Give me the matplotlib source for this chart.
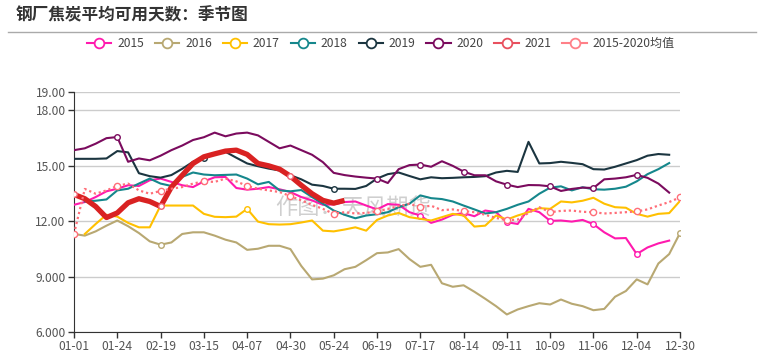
import numpy as np
import matplotlib
matplotlib.use('Agg')
import matplotlib.pyplot as plt
from matplotlib.lines import Line2D

plt.rcParams['font.family'] = ['Noto Sans CJK SC', 'DejaVu Sans']

nan = np.nan

tick_labels = ['01-01', '01-24', '02-19', '03-15', '04-07', '04-30', '05-24', '06-19',
               '07-17', '08-14', '09-11', '10-09', '11-06', '12-04', '12-30']

y2015 = [12.89, 13.04, 13.31, 13.62, 13.76, 13.95, 13.91, 14.22, 14.31, 14.13, 13.95, 13.85,
         14.16, 14.38, 14.40, 13.80, 13.71, 13.76, 13.85, 13.73, 13.58, 13.31, 13.13, 12.89,
         12.91, 13.04, 13.07, 12.85, 12.64, 12.93, 12.89, 12.49, 12.31, 11.91, 12.09, 12.35,
         12.44, 12.27, 12.58, 12.49, 11.95, 11.85, 12.67, 12.49, 12.02, 12.04, 11.98, 12.07,
         11.84, 11.40, 11.07, 11.09, 10.22, 10.58, 10.80, 10.95, nan]
y2016 = [11.31, 11.22, 11.45, 11.76, 12.04, 11.73, 11.36, 10.91, 10.73, 10.85, 11.31, 11.40,
         11.40, 11.22, 11.00, 10.85, 10.45, 10.51, 10.67, 10.67, 10.49, 9.58, 8.85, 8.89,
         9.07, 9.40, 9.53, 9.89, 10.27, 10.31, 10.49, 9.95, 9.53, 9.64, 8.64, 8.45,
         8.53, 8.18, 7.80, 7.40, 6.95, 7.22, 7.40, 7.56, 7.49, 7.76, 7.53, 7.40,
         7.18, 7.25, 7.91, 8.22, 8.85, 8.58, 9.71, 10.22, 11.36]
y2017 = [nan, 11.31, 11.85, 12.35, 12.25, 11.91, 11.67, 11.67, 12.85, 12.85, 12.85, 12.85,
         12.40, 12.24, 12.22, 12.25, 12.67, 11.98, 11.84, 11.82, 11.84, 11.93, 12.04, 11.49,
         11.45, 11.55, 11.67, 11.49, 12.07, 12.31, 12.45, 12.22, 12.13, 12.04, 12.22, 12.40,
         12.31, 11.71, 11.76, 12.31, 12.09, 12.31, 12.49, 12.71, 12.67, 13.07, 13.02, 13.11,
         13.27, 12.95, 12.76, 12.73, 12.40, 12.25, 12.40, 12.44, 13.10]
y2018 = [nan, 13.07, 13.11, 13.18, 13.67, 13.76, 14.04, 14.31, 14.04, 13.91, 14.40, 14.64,
         14.53, 14.49, 14.51, 14.53, 14.31, 14.00, 14.13, 13.67, 13.62, 13.69, 13.31, 12.95,
         12.58, 12.35, 12.16, 12.31, 12.38, 12.49, 12.76, 12.95, 13.40, 13.25, 13.20, 13.07,
         12.85, 12.64, 12.42, 12.49, 12.67, 12.89, 13.07, 13.49, 13.82, 13.89, 13.67, 13.84,
         13.73, 13.71, 13.76, 13.87, 14.16, 14.55, 14.82, 15.15, nan]
y2019 = [15.38, 15.38, 15.38, 15.40, 15.80, 15.73, 14.60, 14.44, 14.36, 14.50, 14.84, 15.22,
         15.44, 15.67, 15.76, 15.44, 15.13, 14.98, 14.85, 14.75, 14.49, 14.27, 13.98, 13.91,
         13.76, 13.76, 13.75, 13.91, 14.31, 14.55, 14.64, 14.45, 14.27, 14.38, 14.33, 14.35,
         14.38, 14.40, 14.44, 14.64, 14.73, 14.67, 16.30, 15.13, 15.15, 15.22, 15.16, 15.09,
         14.82, 14.80, 14.95, 15.13, 15.31, 15.55, 15.64, 15.60, nan]
y2020 = [15.85, 15.95, 16.20, 16.50, 16.56, 15.22, 15.40, 15.30, 15.55, 15.85, 16.10, 16.40,
         16.55, 16.80, 16.60, 16.75, 16.80, 16.65, 16.30, 15.95, 16.10, 15.85, 15.60, 15.20,
         14.62, 14.50, 14.42, 14.36, 14.31, 14.07, 14.82, 15.04, 15.07, 14.95, 15.25, 15.00,
         14.69, 14.49, 14.49, 14.16, 13.98, 13.85, 13.96, 13.95, 13.89, 13.64, 13.75, 13.82,
         13.80, 14.27, 14.31, 14.38, 14.51, 14.35, 14.04, 13.55, nan]
y2021 = [13.45, 13.22, 12.80, 12.20, 12.45, 13.00, 13.22, 13.07, 12.80, 13.85, 14.49, 15.13,
         15.49, 15.65, 15.80, 15.85, 15.62, 15.13, 15.00, 14.82, 14.44, 13.95, 13.49, 13.13,
         12.98, 13.13] + [nan] * 31
y_avg = [11.31, 13.75, 13.49, 13.67, 13.91, 14.04, 13.67, 13.49, 13.64, 13.76, 13.85, 14.04,
         14.16, 14.13, 14.31, 14.16, 13.91, 13.76, 13.67, 13.58, 13.36, 13.13, 12.89, 12.67,
         12.40, 12.49, 12.42, 12.45, 12.53, 12.67, 12.82, 12.95, 12.76, 12.84, 12.60, 12.64,
         12.55, 12.49, 12.35, 12.18, 12.05, 12.09, 12.45, 12.76, 12.49, 12.56, 12.58, 12.51,
         12.49, 12.42, 12.45, 12.49, 12.53, 12.64, 12.85, 13.04, 13.29]

series = [
    ('2015', y2015, '#FF1AAE', [12, 32, 36, 40, 44, 48, 52]),
    ('2016', y2016, '#B8A872', [8, 56]),
    ('2017', y2017, '#FFC000', [16]),
    ('2018', y2018, '#15878C', []),
    ('2019', y2019, '#1B3540', [12, 24]),
    ('2020', y2020, '#7B0B5E', [4, 28, 32, 36, 40, 44, 48, 52]),
]

x = np.arange(len(y2015))

fig = plt.figure(figsize=(7.62, 3.57), dpi=100)
ax = fig.add_axes([74 / 762, 1 - 332 / 357, 606 / 762, 240 / 357])

for name, vals, col, marks in series:
    ax.plot(x, vals, color=col, lw=1.5, marker='o', markevery=marks, ms=4,
            mfc='white', mec=col, mew=1, zorder=3)

ax.plot(x, y2021, color='#D92222', lw=3.8, marker='o', markevery=[0, 8, 20], ms=4,
        mfc='white', mec='#F06070', mew=1, zorder=4, solid_capstyle='butt')
ax.plot(x, y_avg, color='#FF6E78', lw=1.6, ls=(0, (1, 1.3)), marker='o',
        markevery=list(range(0, 57, 4)), ms=4.5, mfc='white', mec='#FF6E78', mew=1, zorder=5)

ax.text(0.46, 0.515, '作图：天风期货', transform=ax.transAxes, fontsize=16,
        color='#cfcfcf', ha='center', va='center', zorder=1)

ax.set_xlim(0, 56)
ax.set_ylim(6, 19)
ax.set_xticks(range(0, 57, 4))
ax.set_xticklabels(tick_labels)
ax.set_yticks([6, 9, 12, 15, 18, 19])
ax.set_yticklabels(['6.000', '9.000', '12.00', '15.00', '18.00', '19.00'])
ax.grid(axis='y', color='#cccccc', lw=1)
ax.set_axisbelow(True)
for s in ['top', 'right']:
    ax.spines[s].set_visible(False)
ax.spines['left'].set_color('#333333')
ax.spines['bottom'].set_color('#333333')
ax.tick_params(axis='both', colors='#333333', labelcolor='#555555', labelsize=8.7,
               length=4, width=1, pad=2)

fig.text(16 / 762, 1 - 15.5 / 357, '钢厂焦炭平均可用天数：季节图', fontsize=12,
         fontweight='bold', color='#333333', va='center', ha='left')
fig.add_artist(Line2D([8 / 762, 756 / 762], [1 - 32 / 357, 1 - 32 / 357],
                      color='#aaaaaa', lw=1, transform=fig.transFigure))

handles = [Line2D([0], [0], color=c, lw=1.5, marker='o', ms=7, mfc='white', mec=c, mew=1.3)
           for _, _, c, _ in series]
handles.append(Line2D([0], [0], color='#E8505E', lw=1.5, marker='o', ms=7, mfc='white',
                      mec='#E8505E', mew=1.3))
handles.append(Line2D([0], [0], color='#FF8088', lw=1.5, marker='o', ms=7, mfc='white',
                      mec='#FF8088', mew=1.3))
labels = [s[0] for s in series] + ['2021', '2015-2020均值']
fig.legend(handles, labels, loc='center', bbox_to_anchor=(0.5, 1 - 43.5 / 357), ncol=8,
           frameon=False, fontsize=8.7, handlelength=2.0, handletextpad=0.5,
           columnspacing=0.9, labelcolor='#444444')

fig.savefig('out.png', dpi=100)
